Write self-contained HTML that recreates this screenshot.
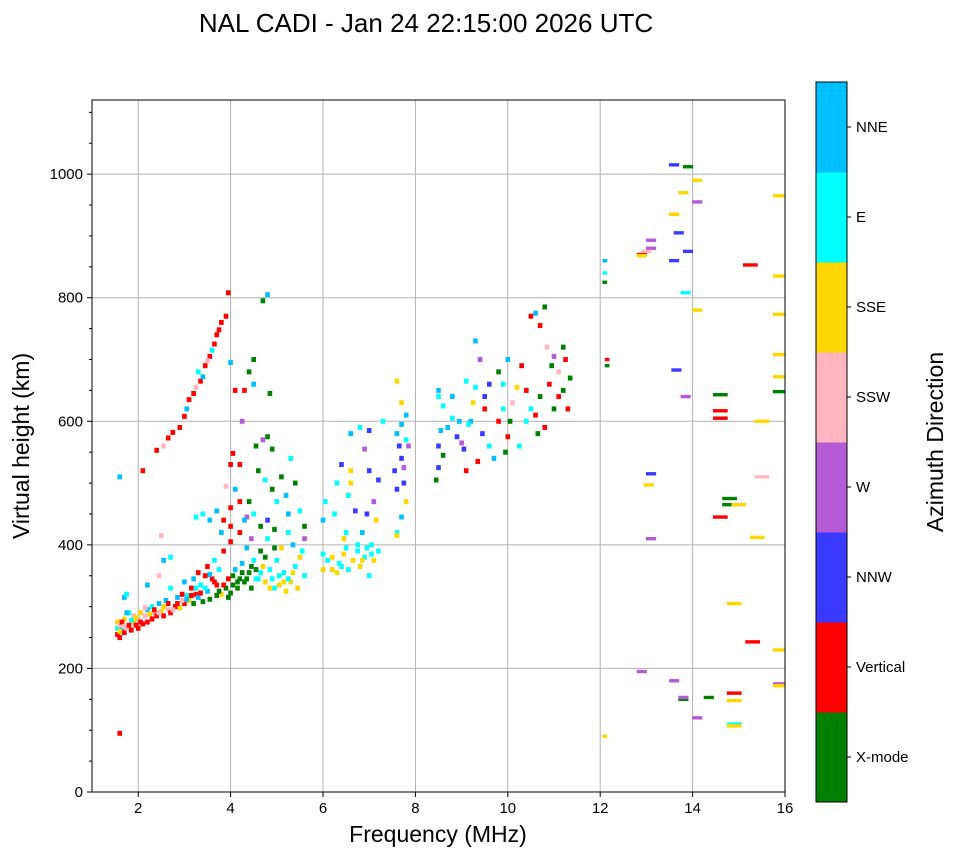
<!DOCTYPE html>
<html><head><meta charset="utf-8"><style>
html,body{margin:0;padding:0;background:#fff;}
svg text{font-family:"Liberation Sans","DejaVu Sans",sans-serif;}
</style></head><body>
<svg id="chart" width="958" height="857" viewBox="0 0 958 857" xmlns="http://www.w3.org/2000/svg">
<text x="426" y="32" font-size="26" text-anchor="middle">NAL CADI - Jan 24 22:15:00 2026 UTC</text>
<defs><clipPath id="plotclip"><rect x="92" y="100" width="693" height="692"/></clipPath></defs>
<g id="grid"></g>
<g id="marks" clip-path="url(#plotclip)"></g>
<rect x="92" y="100" width="693" height="692" fill="none" stroke="#000" stroke-width="1"/>
<g id="axes"></g>
<text x="438" y="842" font-size="23" text-anchor="middle">Frequency (MHz)</text>
<text transform="translate(29,446) rotate(-90)" font-size="23" text-anchor="middle">Virtual height (km)</text>
<g id="cbar"></g>
<text transform="translate(943,442) rotate(-90)" font-size="23" text-anchor="middle">Azimuth Direction</text>
</svg>
<script>
const dirNames=["X-mode","Vertical","NNW","W","SSW","SSE","E","NNE"];
const dirColors=["#008000","#ff0000","#3a3aff","#b65bd6","#ffb6c1","#ffd700","#00ffff","#00bfff"];
const xTicks=[2,4,6,8,10,12,14,16];
const yTicks=[0,200,400,600,800,1000];
const freqMHz=[
1.55,1.55,1.55,1.6,1.6,1.65,1.7,1.7,1.75,1.8,
1.8,1.85,1.9,1.9,1.95,2.0,2.0,2.05,2.1,2.15,
2.2,2.2,2.3,2.3,2.35,2.4,2.45,2.5,2.55,2.6,
2.65,2.7,2.7,2.8,2.85,2.9,2.95,3.0,3.0,3.05,
3.1,3.15,3.2,3.2,3.25,3.3,3.3,3.35,3.4,3.45,
3.5,3.5,3.55,3.6,3.65,3.7,3.7,3.75,3.8,3.85,
3.9,3.95,4.0,4.0,4.05,4.1,4.15,4.2,4.25,4.3,
4.35,4.4,4.45,4.5,4.55,4.6,4.65,4.7,4.75,4.8,
1.7,1.75,2.2,2.45,2.55,2.7,2.5,1.6,1.6,2.1,
2.4,2.55,2.65,2.75,2.9,3.0,3.05,3.1,3.2,3.25,
3.35,3.4,3.45,3.55,3.6,3.65,3.7,3.8,3.9,3.95,
3.3,3.5,3.75,4.0,4.05,4.2,4.2,4.1,4.35,4.25,
4.3,4.1,4.4,4.5,4.7,4.8,4.0,4.5,4.85,4.55,
4.7,4.8,4.9,4.6,4.75,4.9,4.4,4.3,4.5,4.65,
4.8,4.95,4.2,4.0,3.85,3.7,3.55,3.4,3.25,3.9,
4.0,3.8,4.45,5.0,5.1,5.2,5.3,5.4,5.5,5.6,
5.25,5.1,5.0,5.15,5.3,5.4,5.5,5.6,5.05,4.9,
5.2,5.45,5.55,4.95,4.85,5.35,5.6,5.25,6.0,6.0,
6.05,6.0,6.2,6.3,6.4,6.5,6.5,6.55,6.6,6.6,
6.7,6.75,6.8,6.85,6.9,6.95,7.0,7.05,7.1,7.1,
7.0,6.8,6.9,6.6,6.4,7.15,7.2,6.3,7.3,7.2,
6.25,6.45,7.0,7.6,7.65,7.7,7.55,7.75,7.6,7.8,
7.7,7.6,7.6,7.75,7.8,7.85,7.7,7.6,7.7,7.8,
8.5,8.5,8.6,8.55,8.5,8.6,8.45,8.5,8.7,8.8,
8.9,9.0,9.1,9.05,9.2,9.25,9.3,9.4,9.3,9.5,
9.45,9.6,9.7,9.8,9.9,10.0,9.95,9.35,9.15,8.95,
9.6,9.8,10.0,9.9,8.8,9.1,9.5,10.05,10.1,10.2,
10.3,10.4,10.5,10.6,10.7,10.8,10.9,11.0,11.1,11.2,
11.3,11.35,11.25,10.6,10.8,10.7,10.85,11.0,11.2,10.5,
10.4,10.65,11.1,10.95,10.25,12.1,12.1,12.1,12.15,12.15,
12.1,12.9,13.1,13.1,13.6,13.9,13.6,13.8,14.1,14.1,
13.7,13.9,13.6,13.85,14.1,13.65,13.85,14.6,14.6,14.6,
13.1,13.05,13.1,14.8,14.8,14.6,15.0,15.25,15.5,15.5,
15.4,15.9,15.9,15.9,15.9,15.9,15.9,14.9,15.3,15.9,
15.9,15.9,14.9,14.9,14.9,14.9,12.9,13.6,13.8,13.8,
14.1,14.35,12.1,12.9,13.0,
1.6,1.65,1.7,1.75,1.85,1.95,2.05,2.15,2.25,2.35,
2.45,2.55,2.65,2.75,2.85,2.95,3.05,3.15,3.25,3.35,
3.45,3.55,3.65,3.75,3.85,3.95,4.05,4.15,4.25,4.35,
4.45,4.55,4.65,4.75,4.85,4.95,5.05,5.15,5.25,5.35,
6.1,6.2,6.35,6.45,6.55,6.65,6.75,6.85,6.95,7.05];
const heightKm=[
255,265,275,250,270,262,258,280,265,270,
290,262,275,285,270,265,280,290,272,285,
275,295,280,300,290,285,305,292,285,310,
295,290,330,300,315,298,320,305,340,318,
310,330,305,345,320,315,355,335,308,350,
325,365,312,345,375,318,335,360,320,390,
330,345,322,405,335,360,330,345,370,340,
395,355,330,375,360,345,390,365,380,410,
315,320,335,350,375,380,415,95,510,520,
553,560,573,582,590,608,620,635,645,655,
665,672,690,705,715,725,740,760,770,808,
680,698,748,530,548,530,470,490,445,600,
650,650,680,700,795,805,695,660,645,560,
570,575,555,520,505,490,470,440,450,430,
440,425,420,460,440,455,440,450,445,495,
430,420,410,470,510,480,540,500,455,430,
420,395,375,355,340,365,380,350,335,345,
325,330,390,395,360,400,410,450,385,440,
470,360,380,355,365,395,420,480,500,580,
455,390,365,420,380,450,520,400,375,470,
585,590,555,520,530,440,390,500,600,505,
450,410,350,580,560,540,520,500,490,470,
445,420,415,525,570,560,595,665,630,610,
650,640,625,585,560,545,505,525,590,605,
575,565,520,555,600,630,655,700,730,620,
580,560,540,600,620,575,550,535,595,600,
660,680,700,660,640,665,640,600,630,655,
690,650,620,610,640,590,660,620,680,650,
620,670,700,775,785,755,720,705,720,770,
600,580,640,690,560,860,840,825,700,690,
90,870,880,893,1015,1012,935,970,990,955,
905,875,860,808,780,683,640,643,617,605,
515,497,410,475,465,445,465,853,600,510,
412,965,835,773,708,672,648,305,243,230,
175,172,160,148,110,107,195,180,150,153,
120,153,860,868,875,
260,275,268,290,278,282,275,298,288,295,
290,300,305,295,305,310,312,318,330,322,
330,352,340,325,335,315,350,340,355,345,
365,345,355,340,330,330,350,340,345,355,
375,360,370,385,360,375,400,375,395,385];
const dirIdx=[
1,6,5,1,4,7,1,5,4,1,
6,1,5,4,1,1,4,5,1,4,
1,7,1,6,4,1,7,5,1,7,
4,1,6,1,7,5,1,1,7,6,
5,1,0,7,1,7,1,6,0,1,
7,1,0,1,6,0,1,6,5,1,
0,1,0,1,0,7,0,0,7,0,
7,0,0,6,0,6,0,5,0,6,
7,6,7,4,7,6,4,1,7,1,
1,4,1,1,1,1,7,1,1,4,
1,7,1,1,6,1,1,1,1,1,
6,4,1,1,1,1,1,7,3,3,
1,1,0,0,0,7,7,7,0,0,
3,0,0,0,6,0,0,7,6,0,
2,0,1,1,1,7,7,6,6,4,
1,7,3,6,0,7,6,0,6,0,
6,5,6,6,5,6,5,6,5,6,
5,5,6,0,6,7,3,7,6,7,
6,5,5,5,6,6,6,6,5,7,
2,6,5,7,6,2,2,6,5,3,
2,6,3,5,2,5,6,6,6,2,
6,5,6,7,2,2,2,2,2,5,
7,6,5,3,6,3,7,5,5,7,
7,6,6,7,2,0,0,2,7,6,
2,3,1,2,7,5,6,3,7,1,
2,6,7,1,6,1,0,1,6,7,
2,0,7,6,7,6,2,0,4,5,
1,1,6,1,0,1,1,0,4,0,
1,0,1,7,0,1,4,3,0,1,
6,0,1,0,6,2,6,0,1,0,
5,1,3,3,2,0,5,5,5,3,
2,2,2,6,5,2,3,0,1,1,
2,5,3,0,0,1,5,1,5,4,
5,5,5,5,5,5,0,5,1,5,
3,5,1,5,6,5,3,3,0,3,
3,0,7,5,4,
5,1,4,7,6,5,1,4,5,1,
4,5,1,4,1,4,7,1,6,1,
6,7,1,0,1,0,0,0,0,0,
0,6,6,5,5,6,6,5,6,5,
6,5,6,5,6,5,6,5,6,6];

const NS="http://www.w3.org/2000/svg";
const X0=92,X1=785,Y0=792,Y1=100,FMIN=1,FMAX=16,HMIN=0,HMAX=1120;
function xScale(f){return X0+(f-FMIN)/(FMAX-FMIN)*(X1-X0);}
function yScale(h){return Y0-(h-HMIN)/(HMAX-HMIN)*(Y0-Y1);}
function mk(tag,attrs,parent){const e=document.createElementNS(NS,tag);for(const k in attrs)e.setAttribute(k,attrs[k]);parent.appendChild(e);return e;}
const grid=document.getElementById('grid'),axes=document.getElementById('axes'),marks=document.getElementById('marks'),cbar=document.getElementById('cbar');
xTicks.forEach(t=>{const x=xScale(t);
 const g=mk('line',{x1:x,x2:x,y1:Y1,y2:Y0,stroke:'#b0b0b0','stroke-width':1},grid);
 
 
 mk('line',{x1:x,x2:x,y1:Y0,y2:Y0+5,stroke:'#000'},axes);
 const tx=mk('text',{x:x,y:Y0+21,'font-size':15,'text-anchor':'middle'},axes);tx.textContent=t;
 
 });
for(let h=0;h<=1100;h+=50){const y=yScale(h);mk('line',{x1:X0-(h%200===0?5:3),x2:X0,y1:y,y2:y,stroke:'#000'},axes);}
yTicks.forEach(t=>{const y=yScale(t);
 const g=mk('line',{x1:X0,x2:X1,y1:y,y2:y,stroke:'#b0b0b0','stroke-width':1},grid);
 
 
 const tx=mk('text',{x:X0-9,y:y+5,'font-size':15,'text-anchor':'end'},axes);tx.textContent=t;
 
 });
function cellW(f){return f<12.5?0.1:(f<14.5?0.22:0.32);}
for(let i=0;i<freqMHz.length;i++){const f=freqMHz[i],h=heightKm[i],w=cellW(f);
 const xa=xScale(f-w/2),xb=xScale(f+w/2);
 const ht=f<12?5:3.4;
 const r=mk('rect',{x:xa,y:yScale(h)-ht/2,width:xb-xa,height:ht,fill:dirColors[dirIdx[i]]},marks);
 
 }
const CB_X=816,CB_W=31,CB_TOP=82,CB_BOT=802,seg=(CB_BOT-CB_TOP)/dirNames.length;
dirNames.forEach((n,i)=>{const y=CB_BOT-(i+1)*seg;
 const r=mk('rect',{x:CB_X,y:y,width:CB_W,height:seg+0.5,fill:dirColors[i]},cbar);
 
 
 mk('line',{x1:CB_X+CB_W,x2:CB_X+CB_W+4,y1:y+seg/2,y2:y+seg/2,stroke:'#000'},cbar);
 const tx=mk('text',{x:CB_X+CB_W+9,y:y+seg/2+5,'font-size':15},cbar);tx.textContent=n;
 
 });
mk('rect',{x:CB_X,y:CB_TOP,width:CB_W,height:CB_BOT-CB_TOP,fill:'none',stroke:'#000'},cbar);
</script>
</body></html>
